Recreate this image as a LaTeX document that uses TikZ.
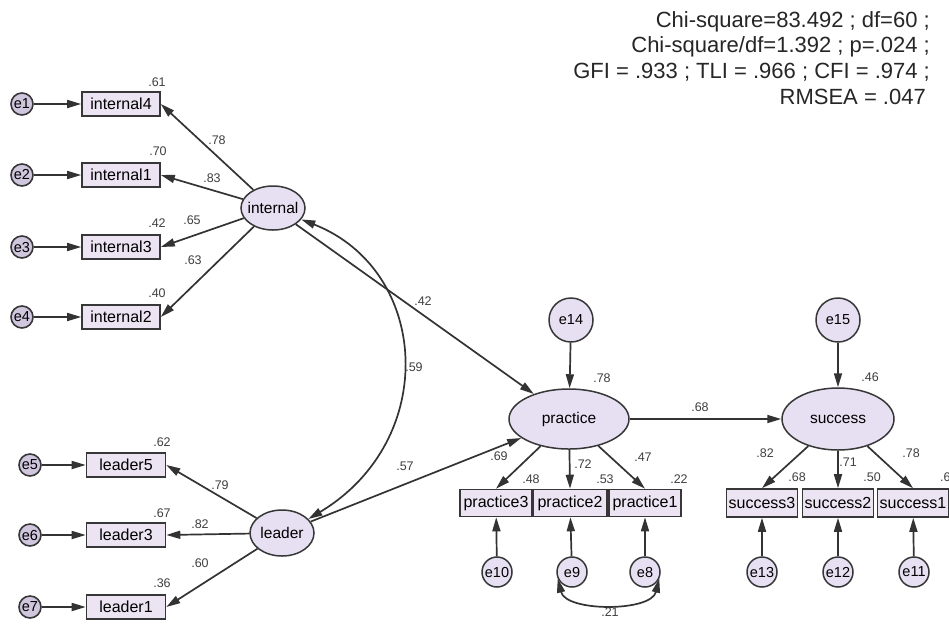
\documentclass[tikz,border=0pt]{standalone}
\usepackage{fontspec}
\setmainfont{Liberation Sans}
\usetikzlibrary{arrows.meta,shapes.geometric}
\definecolor{lav}{RGB}{230,224,242}
\definecolor{lavbox}{RGB}{236,228,242}
\definecolor{lavdark}{RGB}{208,198,222}
\definecolor{edge}{RGB}{55,55,55}
\tikzset{
  obs/.style={draw=edge, line width=1.6pt, fill=lavbox, rectangle, inner sep=0pt,
    minimum height=24pt, font=\fontsize{16}{16}\selectfont},
  lat/.style={draw=edge, line width=1.5pt, fill=lav, ellipse, inner sep=0pt,
    font=\fontsize{15.5}{15.5}\selectfont},
  errs/.style={draw=edge, line width=1.6pt, fill=lavdark, circle, inner sep=0pt,
    minimum size=22pt, font=\fontsize{14.5}{14.5}\selectfont},
  errb/.style={draw=edge, line width=1.5pt, fill=lav, circle, inner sep=0pt,
    minimum size=30pt, font=\fontsize{14.5}{14.5}\selectfont},
  conn/.style={draw=black!80, line width=1.7pt, -{Triangle[length=14pt,width=8pt]}},
  dconn/.style={draw=black!80, line width=1.7pt, {Triangle[length=14pt,width=8pt]}-{Triangle[length=14pt,width=8pt]}},
  coef/.style={font=\fontsize{12.5}{12.5}\selectfont, text=black!75, inner sep=1pt},
  hdr/.style={font=\fontsize{22}{22}\selectfont, text=black!85, inner sep=0pt, anchor=east},
}
\begin{document}
\begin{tikzpicture}[x=1pt,y=-1pt]
\useasboundingbox[fill=white] (0,0) rectangle (949,625);

% header
\node[hdr] (h1) at (930,22) {Chi-square=83.492 ; df=60 ;};
\node[hdr] (h2) at (930,47) {Chi-square/df=1.392 ; p=.024 ;};
\node[hdr] (h3) at (930,72) {GFI = .933 ; TLI = .966 ; CFI = .974 ;};
\node[hdr] (h4) at (926,97) {RMSEA = .047};

% internal block
\node[lat, minimum width=64pt, minimum height=44pt] (internal) at (273,208) {\makebox[0pt]{internal}};
\node[obs, minimum width=78pt] (ib4) at (121,104) {internal4};
\node[obs, minimum width=78pt] (ib1) at (121,175) {internal1};
\node[obs, minimum width=78pt] (ib3) at (121,247) {internal3};
\node[obs, minimum width=78pt] (ib2) at (121,317) {internal2};
\node[errs] (e1) at (22,104) {e1};
\node[errs] (e2) at (22,175) {e2};
\node[errs] (e3) at (22,247) {e3};
\node[errs] (e4) at (22,317) {e4};
\foreach \a/\b in {e1/ib4,e2/ib1,e3/ib3,e4/ib2} \draw[conn] (\a) -- (\b);
\foreach \b in {ib4,ib1,ib3,ib2} \draw[conn] (internal) -- (\b.east);

% leader block
\node[lat, minimum width=64pt, minimum height=46pt] (leader) at (282,533) {\makebox[0pt]{leader}};
\node[obs, minimum width=79pt] (lb5) at (126,465) {leader5};
\node[obs, minimum width=79pt] (lb3) at (126,535) {leader3};
\node[obs, minimum width=79pt] (lb1) at (126,607) {leader1};
\node[errs] (e5) at (30,465) {e5};
\node[errs] (e6) at (30,535) {e6};
\node[errs] (e7) at (30,607) {e7};
\foreach \a/\b in {e5/lb5,e6/lb3,e7/lb1} \draw[conn] (\a) -- (\b);
\foreach \b in {lb5,lb3,lb1} \draw[conn] (leader) -- (\b.east);

% practice block
\node[lat, minimum width=120pt, minimum height=60pt] (practice) at (569,419) {\makebox[0pt]{practice}};
\node[errb, minimum size=44pt] (e14) at (571,320) {e14};
\node[obs, minimum width=72pt, minimum height=27pt] (p3) at (496,503) {practice3};
\node[obs, minimum width=74pt, minimum height=27pt] (p2) at (570,503) {practice2};
\node[obs, minimum width=72pt, minimum height=27pt] (p1) at (645,503) {practice1};
\node[errb] (e10) at (497,572) {e10};
\node[errb] (e9) at (572,572) {e9};
\node[errb] (e8) at (645,572) {e8};
\draw[conn] (e14) -- (practice);
\draw[conn] (practice) -- (p3.north);
\draw[conn] (practice) -- (p2.north);
\draw[conn] (practice) -- (p1.north);
\draw[conn] (e10) -- (p3);
\draw[conn] (e9) -- (p2);
\draw[conn] (e8) -- (p1);
\draw[dconn] (e9.205) .. controls (566,612) and (651,612) .. (e8.-25);

% success block
\node[lat, minimum width=112pt, minimum height=62pt] (success) at (838,419) {\makebox[0pt]{success}};
\node[errb, minimum size=44pt] (e15) at (838,320) {e15};
\node[obs, minimum width=71pt, minimum height=28pt] (s3) at (762,503) {success3};
\node[obs, minimum width=71pt, minimum height=28pt] (s2) at (838,503) {success2};
\node[obs, minimum width=71pt, minimum height=28pt] (s1) at (913,503) {success1};
\node[errb] (e13) at (762,572) {e13};
\node[errb] (e12) at (838,572) {e12};
\node[errb] (e11) at (914,572) {e11};
\draw[conn] (e15) -- (success);
\draw[conn] (success) -- (s3.north);
\draw[conn] (success) -- (s2.north);
\draw[conn] (success) -- (s1.north);
\draw[conn] (e13) -- (s3);
\draw[conn] (e12) -- (s2);
\draw[conn] (e11) -- (s1);

% structural paths
\draw[conn] (internal) -- (practice);
\draw[conn] (leader) -- (practice);
\draw[conn] (practice) -- (success);
\draw[dconn] (internal.-22) .. controls (430,270) and (440,440) .. (leader.28);

% coefficients
\node[coef] (c1) at (157,82) {.61};
\node[coef] (c2) at (217,140) {.78};
\node[coef] (c3) at (158,151) {.70};
\node[coef] (c4) at (212,178) {.83};
\node[coef] (c5) at (157,223) {.42};
\node[coef] (c6) at (192,220) {.65};
\node[coef] (c7) at (193,260) {.63};
\node[coef] (c8) at (157,293) {.40};
\node[coef] (c9) at (162,442) {.62};
\node[coef] (c10) at (220,485) {.79};
\node[coef] (c11) at (162,513) {.67};
\node[coef] (c12) at (200,524) {.82};
\node[coef] (c13) at (200,563) {.60};
\node[coef] (c14) at (162,583) {.36};
\node[coef] (c15) at (423,301) {.42};
\node[coef] (c16) at (414,367) {.59};
\node[coef] (c17) at (405,466) {.57};
\node[coef] (c18) at (602,378) {.78};
\node[coef] (c19) at (700,407) {.68};
\node[coef] (c20) at (499,456) {.69};
\node[coef] (c21) at (583,464) {.72};
\node[coef] (c22) at (643,457) {.47};
\node[coef] (c23) at (531,479) {.48};
\node[coef] (c24) at (605,479) {.53};
\node[coef] (c25) at (679,479) {.22};
\node[coef] (c26) at (610,612) {.21};
\node[coef] (c27) at (870,377) {.46};
\node[coef] (c28) at (765,453) {.82};
\node[coef] (c29) at (797,477) {.68};
\node[coef] (c30) at (848,462) {.71};
\node[coef] (c31) at (872,477) {.50};
\node[coef] (c32) at (911,453) {.78};
\node[coef, anchor=west] (c33) at (939,477) {.6};
\end{tikzpicture}
\end{document}
